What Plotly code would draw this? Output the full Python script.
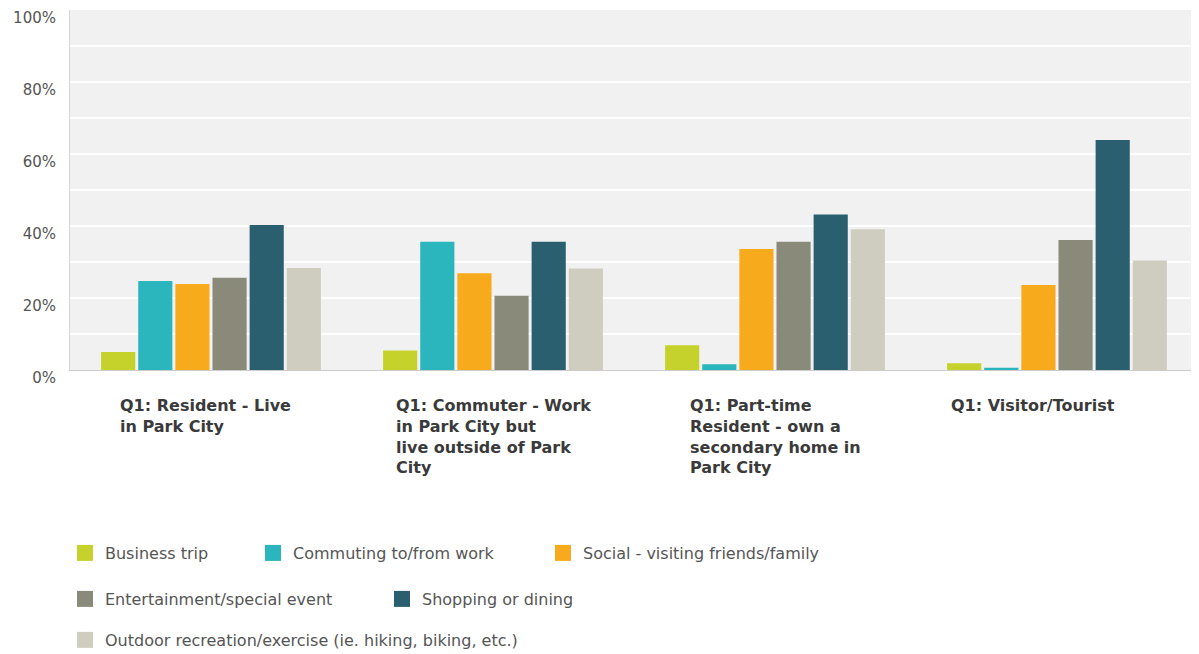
import plotly.graph_objects as go

categories = [
    "Q1: Resident - Live<br>in Park City",
    "Q1: Commuter - Work<br>in Park City but<br>live outside of Park<br>City",
    "Q1: Part-time<br>Resident - own a<br>secondary home in<br>Park City",
    "Q1: Visitor/Tourist",
]
cat_keys = ["Resident", "Commuter", "Part-time", "Visitor"]

series_names = [
    "Business trip",
    "Commuting to/from work",
    "Social - visiting friends/family",
    "Entertainment/special event",
    "Shopping or dining",
    "Outdoor recreation/exercise (ie. hiking, biking, etc.)",
]
business = [0.05, 0.054, 0.069, 0.019]
commuting = [0.247, 0.356, 0.016, 0.006]
social = [0.239, 0.269, 0.336, 0.236]
entertainment = [0.256, 0.206, 0.356, 0.361]
shopping = [0.403, 0.356, 0.432, 0.639]
outdoor = [0.283, 0.282, 0.391, 0.304]
series_values = [business, commuting, social, entertainment, shopping, outdoor]

y_ticks = [0, 0.2, 0.4, 0.6, 0.8, 1.0]
y_tick_labels = ["0%", "20%", "40%", "60%", "80%", "100%"]

# styling (figure drawn inside the page's default 8px body margin)
colors = ["#c5d22b", "#2bb5bd", "#f6aa1c", "#8a8a7b", "#2a5f70", "#cfcdc0"]
legend_ids = ["legend", "legend2", "legend3", "legend4", "legend5", "legend6"]
legend_px = [(57, 545), (245, 545), (535, 545), (57, 591), (374, 591), (57, 632)]
label_xshift = [-6, 0, 0, -24]
FONT = "DejaVu Sans, Liberation Sans, Arial"
W, H = 1191, 646

fig = go.Figure()
for name, vals, col in zip(series_names, series_values, colors):
    fig.add_trace(go.Bar(
        x=cat_keys, y=vals, name=name, marker_color=col,
        marker_line_width=0, showlegend=False,
    ))
for name, col, lg in zip(series_names, colors, legend_ids):
    fig.add_trace(go.Scatter(
        x=[None], y=[None], mode="markers", name=name, legend=lg,
        marker=dict(symbol="square", size=16, color=col, line=dict(width=0)),
    ))

for key, label, xs in zip(cat_keys, categories, label_xshift):
    fig.add_annotation(
        x=key, y=0, xref="x", yref="paper", yanchor="top", xanchor="center",
        xshift=xs, yshift=-24, text="<b>" + label + "</b>", align="left",
        showarrow=False, font=dict(family=FONT, size=16, color="#3a3a3a"),
    )

legends = {}
for lg, (px, py) in zip(legend_ids, legend_px):
    legends[lg] = dict(
        orientation="h", xref="container", yref="container", xanchor="left",
        yanchor="middle", x=px / W, y=(H - py) / H,
        font=dict(family=FONT, size=16, color="#555555"),
        bgcolor="rgba(0,0,0,0)", itemclick=False, itemdoubleclick=False,
    )

fig.update_layout(
    width=W, height=H,
    margin=dict(l=62, r=1, t=2, b=284, autoexpand=False),
    paper_bgcolor="white", plot_bgcolor="#f1f1f1",
    barmode="group", bargap=0.21, bargroupgap=0.08,
    font=dict(family=FONT, size=15, color="#555555"),
    xaxis=dict(showticklabels=False, showline=True, linecolor="#cccccc",
               linewidth=1, showgrid=False, ticks=""),
    yaxis=dict(range=[0, 1.0], tickvals=y_ticks, ticktext=y_tick_labels,
               showgrid=True, gridcolor="white", gridwidth=2,
               minor=dict(dtick=0.1, showgrid=True, gridcolor="white", gridwidth=2),
               showline=True, linecolor="#d6d6d6", linewidth=1,
               zeroline=False, ticks="", ticklabelstandoff=10, ticklabelshift=8,
               tickfont=dict(family=FONT, size=15, color="#555555")),
    **legends,
)

fig.write_html("out.html")
